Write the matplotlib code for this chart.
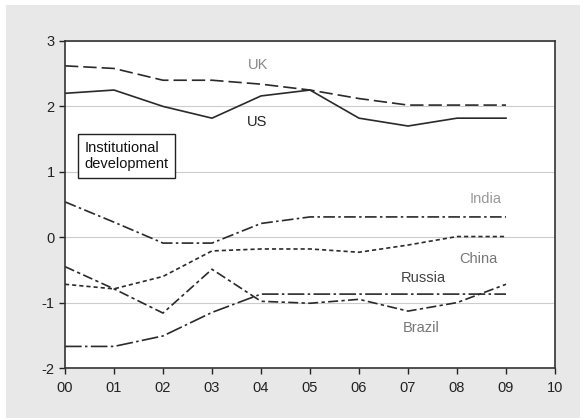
import matplotlib
matplotlib.use("Agg")
import matplotlib.pyplot as plt
from matplotlib.patches import Rectangle

plt.rcParams['font.family'] = ['Liberation Sans', 'DejaVu Sans']
plt.rcParams['axes.unicode_minus'] = False

# data (years 2000-2009)
years = [0, 1, 2, 3, 4, 5, 6, 7, 8, 9]
uk = [2.62, 2.58, 2.40, 2.40, 2.34, 2.25, 2.12, 2.02, 2.02, 2.02]
us = [2.20, 2.25, 2.00, 1.82, 2.16, 2.25, 1.82, 1.70, 1.82, 1.82]
india = [0.54, 0.23, -0.09, -0.09, 0.21, 0.31, 0.31, 0.31, 0.31, 0.31]
china = [-0.72, -0.79, -0.60, -0.21, -0.18, -0.18, -0.23, -0.12, 0.01, 0.01]
brazil = [-0.45, -0.79, -1.16, -0.49, -0.98, -1.01, -0.95, -1.13, -1.00, -0.72]
russia = [-1.67, -1.67, -1.51, -1.15, -0.87, -0.87, -0.87, -0.87, -0.87, -0.87]
xtick_labels = ['00', '01', '02', '03', '04', '05', '06', '07', '08', '09', '10']

fig = plt.figure(figsize=(5.87, 4.2), dpi=100)
fig.add_artist(Rectangle((0.0102, 0.0048), 0.978, 0.983, transform=fig.transFigure,
                         facecolor='#e8e8e8', edgecolor='none', zorder=-10))
ax = fig.add_axes([0.1107, 0.1238, 0.8348, 0.7786])
ax.set_facecolor('white')

lc = '#2a2a2a'
ax.plot(years, uk, color=lc, lw=1.2, dashes=(8, 3))
ax.plot(years, us, color=lc, lw=1.2)
ax.plot(years, india, color=lc, lw=1.2, dashes=(7, 2, 1.5, 2))
ax.plot(years, china, color=lc, lw=1.2, dashes=(2.5, 1.8))
ax.plot(years, brazil, color=lc, lw=1.2, dashes=(6, 2, 2, 2))
ax.plot(years, russia, color=lc, lw=1.2, dashes=(10, 2, 1.5, 2))

ax.text(3.94, 2.63, 'UK', color='#888888', fontsize=10.5, ha='center', va='center')
ax.text(3.92, 1.76, 'US', color='#222222', fontsize=10.5, ha='center', va='center')
ax.text(8.59, 0.58, 'India', color='#999999', fontsize=10.5, ha='center', va='center')
ax.text(8.43, -0.34, 'China', color='#777777', fontsize=10.5, ha='center', va='center')
ax.text(7.31, -0.63, 'Russia', color='#444444', fontsize=10.5, ha='center', va='center')
ax.text(7.27, -1.39, 'Brazil', color='#777777', fontsize=10.5, ha='center', va='center')

ax.text(0.4, 1.47, 'Institutional\ndevelopment', color='#111111', fontsize=10.5,
        ha='left', va='top', linespacing=1.2,
        bbox=dict(boxstyle='square,pad=0.45', facecolor='white', edgecolor='#222222', lw=1))

ax.set_xlim(0, 10)
ax.set_ylim(-2, 3)
ax.set_xticks(range(11))
ax.set_xticklabels(xtick_labels)
ax.set_yticks([-2, -1, 0, 1, 2, 3])
ax.grid(axis='y', color='#cccccc', lw=0.8)
ax.set_axisbelow(True)
for s in ax.spines.values():
    s.set_color('#333333')
    s.set_linewidth(1.2)
ax.tick_params(colors='#222222', labelsize=10.5, length=4, width=1, direction='out')
ax.tick_params(axis='x', pad=5)

plt.savefig('out.png', dpi=100, facecolor='white')
